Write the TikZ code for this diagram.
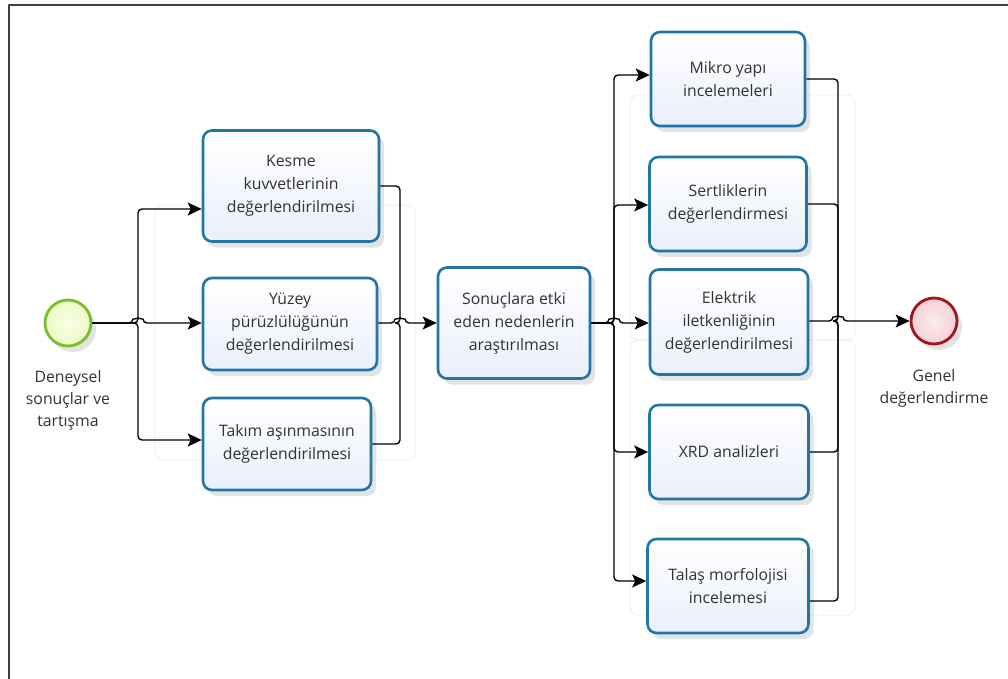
\documentclass[tikz,border=0pt]{standalone}
\usepackage{fontspec}
\setmainfont{Open Sans}
\usetikzlibrary{arrows.meta,shadows}

\begin{document}
\begin{tikzpicture}[
        x=1pt, y=-1pt, % one unit is one pixel of the layout, y runs down
        line join=round,
        task/.style={draw=taskblue, line width=2.6pt, rounded corners=9pt,
            top color=white, bottom color=taskfill, text=textgray,
            align=center, inner sep=0pt, font=\fontsize{15.8}{23}\selectfont,
            drop shadow={opacity=0.22, shadow xshift=5pt, shadow yshift=-6pt}},
        event/.style={circle, minimum size=46pt, inner sep=0pt, line width=2.8pt,
            drop shadow={opacity=0.22, shadow xshift=5pt, shadow yshift=-6pt}},
        lbl/.style={align=center, text=textgray, font=\fontsize{15.8}{22}\selectfont},
        flow/.style={line width=1.4pt, rounded corners=4pt,
            -{Stealth[length=14pt, width=13pt, inset=3pt]}},
        link/.style={line width=1.4pt, rounded corners=4pt},
        faint/.style={draw=gray!12, line width=1pt, rounded corners=8pt}
        ]

        % 1. Colours
        \definecolor{taskblue}{RGB}{32,118,165}
        \definecolor{taskfill}{RGB}{234,239,252}
        \definecolor{textgray}{RGB}{50,50,50}
        \definecolor{startgreen}{RGB}{122,190,45}
        \definecolor{startfill}{RGB}{238,250,196}
        \definecolor{endred}{RGB}{160,22,26}
        \definecolor{endfill}{RGB}{244,208,214}
        \colorlet{framegray}{black!75}

        % 2. Page and frame
        \useasboundingbox (0,0) rectangle (1008,679);
        \draw[framegray, line width=1.6pt] (9,679) -- (9,5) -- (1008,5);

        % faint lane outlines behind the flow
        \draw[faint] (155,205) rectangle (415,460);
        \draw[faint] (630,95) rectangle (855,340);
        \draw[faint] (630,340) rectangle (855,615);

        % 3. Events
        \node[event, draw=startgreen, inner color=startfill!40, outer color=startfill] (start) at (68,323) {};
        \node[lbl] (startlbl) at (68,400) {Deneysel\\sonuçlar ve\\tartışma};
        \node[event, draw=endred, inner color=endfill!40, outer color=endfill] (finish) at (934,321) {};
        \node[lbl] (finishlbl) at (934,388) {Genel\\değerlendirme};

        % 4. Tasks, first column
        \node[task, minimum width=176pt, minimum height=111pt] (kesme) at (291,186)
            {Kesme\\kuvvetlerinin\\değerlendirilmesi};
        \node[task, minimum width=174pt, minimum height=92pt] (yuzey) at (290,324)
            {Yüzey\\pürüzlülüğünün\\değerlendirilmesi};
        \node[task, minimum width=168pt, minimum height=92pt] (takim) at (287,444)
            {Takım aşınmasının\\değerlendirilmesi};

        % middle task
        \node[task, minimum width=152pt, minimum height=111pt] (sonuc) at (514,323)
            {Sonuçlara etki\\eden nedenlerin\\araştırılması};

        % tasks, second column
        \node[task, minimum width=154pt, minimum height=94pt] (mikro) at (728,79)
            {Mikro yapı\\incelemeleri};
        \node[task, minimum width=157pt, minimum height=94pt] (sert) at (728,204)
            {Sertliklerin\\değerlendirmesi};
        \node[task, minimum width=158pt, minimum height=105pt] (elek) at (729,322)
            {Elektrik\\iletkenliğinin\\değerlendirilmesi};
        \node[task, minimum width=159pt, minimum height=94pt] (xrd) at (729,452)
            {XRD analizleri};
        \node[task, minimum width=161pt, minimum height=94pt] (talas) at (728,586)
            {Talaş morfolojisi\\incelemesi};

        % 5. Split and merge points
        \coordinate (split1) at (138,323);
        \coordinate (merge1) at (400,323);
        \coordinate (split2) at (614,323);
        \coordinate (merge2) at (838,321);

        % 6. Connectors, left part
        \draw[flow] (start.east) -- (split1) |- ([yshift=-23pt]kesme.west);
        \draw[flow] (start.east) -- ([xshift=-5pt]split1) arc (180:360:5) -- (yuzey.west |- split1);
        \draw[flow] (start.east) -- (split1) |- ([yshift=4pt]takim.west);

        \draw[link] (kesme.east) -| (merge1) -- ([xshift=-5pt]merge1);
        \draw[flow] (yuzey.east |- merge1) -- ([xshift=-5pt]merge1) arc (180:360:5) -- (sonuc.west);
        \draw[link] (takim.east) -| (merge1) -- ([xshift=-5pt]merge1);

        % connectors, right part
        \draw[flow] (sonuc.east) -- (split2) |- ([yshift=4pt]mikro.west);
        \draw[flow] (sonuc.east) -- (split2) |- ([yshift=-1pt]sert.west);
        \draw[flow] (sonuc.east) -- ([xshift=-5pt]split2) arc (180:360:5) -- (elek.west |- split2);
        \draw[flow] (sonuc.east) -- (split2) |- (xrd.west);
        \draw[flow] (sonuc.east) -- (split2) |- ([yshift=5pt]talas.west);

        \draw[link] (mikro.east) -| (merge2) -- ([xshift=-5pt]merge2);
        \draw[link] (sert.east) -| (merge2) -- ([xshift=-5pt]merge2);
        \draw[flow] (elek.east |- merge2) -- ([xshift=-5pt]merge2) arc (180:360:5) -- (finish.west);
        \draw[link] (xrd.east) -| (merge2) -- ([xshift=-5pt]merge2);
        \draw[link] ([yshift=-15pt]talas.east) -| (merge2) -- ([xshift=-5pt]merge2);
    \end{tikzpicture}
\end{document}
